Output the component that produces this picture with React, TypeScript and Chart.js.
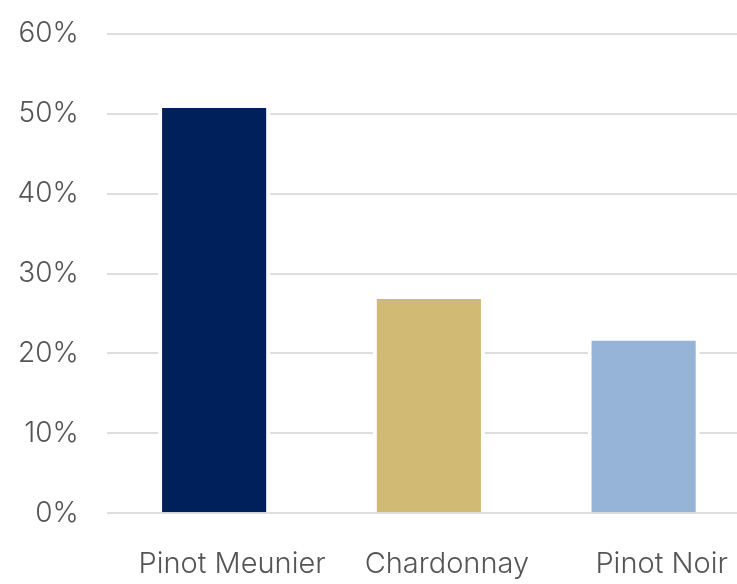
import React, { useEffect, useRef } from "react";
import { Chart, registerables } from "chart.js";

Chart.register(...registerables);

const categories = ["Pinot Meunier", "Chardonnay", "Pinot Noir"];
const shares = [51.2, 27.3, 22.1];
const barColors = ["#00205B", "#D1BA73", "#96B3D8"];
const yTicks = [0, 10, 20, 30, 40, 50, 60];

export default function App() {
  const ref = useRef<HTMLCanvasElement | null>(null);
  useEffect(() => {
    if (!ref.current) return;
    const family = "Inter, 'Noto Sans', sans-serif";
    const chart = new Chart(ref.current, {
      type: "bar",
      data: {
        labels: categories,
        datasets: [
          {
            data: shares,
            backgroundColor: barColors,
            borderColor: "#ffffff",
            borderWidth: { top: 4, left: 4, right: 4, bottom: 0 },
            borderSkipped: "start",
            barPercentage: 0.522,
            categoryPercentage: 1,
          },
        ],
      },
      options: {
        animation: false,
        responsive: false,
        devicePixelRatio: 1,
        layout: { padding: { left: 19, top: 33.7, right: 0, bottom: 0 } },
        plugins: { legend: { display: false }, tooltip: { enabled: false } },
        scales: {
          x: {
            grid: { display: false, drawTicks: false },
            border: { display: false },
            ticks: {
              font: { family, size: 29, weight: 300 as any },
              color: "#555555",
              padding: 34,
              labelOffset: 18,
              maxRotation: 0,
              autoSkip: false,
            },
            afterFit: (axis: any) => {
              axis.paddingLeft = 0;
              axis.paddingRight = 0;
              axis.height = 70.7;
            },
          },
          y: {
            min: 0,
            max: 60,
            afterBuildTicks: (axis: any) => {
              axis.ticks = yTicks.map((v) => ({ value: v }));
            },
            grid: { color: "#dedede", lineWidth: 2, drawTicks: false },
            border: { display: false },
            ticks: {
              font: { family, size: 28, weight: 300 as any },
              color: "#555555",
              padding: 28,
              callback: (v: any) => `${v}%`,
            },
            afterFit: (axis: any) => {
              axis.paddingTop = 0;
              axis.paddingBottom = 0;
              axis.width = 87.75;
            },
          },
        },
      },
    });
    return () => chart.destroy();
  }, []);
  return (
    <div style={{ position: "fixed", left: 0, top: 0, width: 737, height: 584, overflow: "hidden", background: "#fff" }}>
      <canvas ref={ref} width={751} height={584} style={{ display: "block" }} />
    </div>
  );
}
